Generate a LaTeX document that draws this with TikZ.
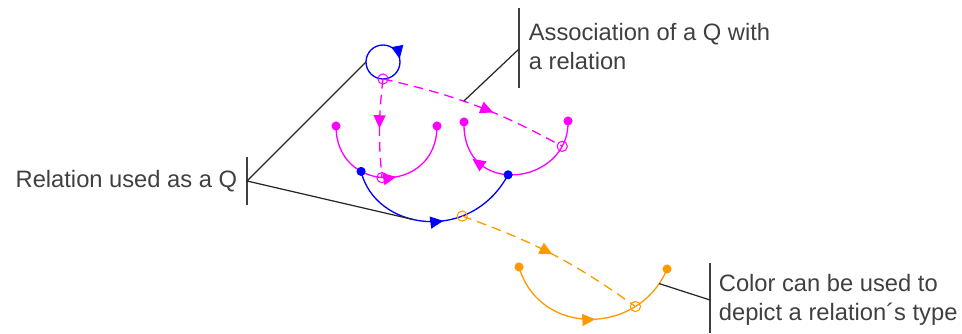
\documentclass[tikz,border=0pt]{standalone}
\usepackage{fontspec}
\setmainfont{Liberation Sans}
\usetikzlibrary{arrows.meta,decorations.markings}
\definecolor{relpink}{RGB}{255,0,255}
\definecolor{relblue}{RGB}{0,0,255}
\definecolor{relorange}{RGB}{255,153,0}
\definecolor{notegray}{RGB}{64,64,64}
\tikzset{
  rel/.style={line width=0.75pt},
  qline/.style={rel, dash pattern=on 5.5pt off 3.5pt},
  midarrow/.style={postaction={decorate},
    decoration={markings,mark=at position #1 with {\arrow{Triangle[length=2.6mm,width=2.4mm]}}}},
  backarrow/.style={postaction={decorate},
    decoration={markings,mark=at position #1 with {\arrow{Triangle[reversed,length=2.6mm,width=2.4mm]}}}},
  dot/.style={circle,fill=#1,inner sep=0pt,minimum size=5.2pt},
  qmark/.style={circle,draw=#1,line width=0.6pt,inner sep=0pt,minimum size=5.8pt},
  note/.style={font=\fontsize{13.5}{16.5}\selectfont, text=notegray, align=left, inner sep=2pt},
  bar/.style={notegray, line width=1.1pt},
  pointer/.style={black!85, line width=0.7pt}
}
\begin{document}
\begin{tikzpicture}[x=0.02cm,y=0.02cm]
  \useasboundingbox (0,0) rectangle (962,334);
  % relation used as a Q (blue loop)
  \coordinate (loopw) at (366,272);
  \draw[rel, relblue, midarrow=0.72] (383,255) coordinate (qa)
    arc[start angle=-90, end angle=-450, radius=0.34cm];
  % pink relations
  \draw[rel, relpink, midarrow=0.56] (336,208) coordinate (pa1)
    .. controls (336,139) and (437,139) .. (437,208)
    coordinate[pos=0.325] (bq1) coordinate[pos=0.47] (qb) coordinate (pa2);
  \draw[rel, relpink, backarrow=0.3] (464,212) coordinate (pr1)
    .. controls (462,134) and (570,149) .. (568,213)
    coordinate[pos=0.45] (bq2) coordinate[pos=0.85] (qc) coordinate (pr2);
  % blue relation
  \draw[rel, relblue, midarrow=0.56] (bq1) .. controls (375,104) and (470,89) .. (bq2)
    coordinate[pos=0.43] (bluetip) coordinate[pos=0.7] (qd);
  % orange relation
  \draw[rel, relorange, midarrow=0.52] (519,67) coordinate (or1)
    .. controls (540,-4) and (640,-1) .. (667,65)
    coordinate[pos=0.75] (qe) coordinate[pos=0.92] (orangetip) coordinate (or2);
  % associations of Qs
  \draw[qline, relpink, midarrow=0.5] (qa) to[bend right=6] (qb);
  \draw[qline, relpink, midarrow=0.6] (qa) to[bend left=8] coordinate[pos=0.43] (assoctip) (qc);
  \draw[qline, relorange, midarrow=0.5] (qd) to[bend left=8] (qe);
  % end points
  \foreach \p in {pa1,pa2,pr1,pr2} \node[dot=relpink] (\p dot) at (\p) {};
  \foreach \p in {bq1,bq2} \node[dot=relblue] (\p dot) at (\p) {};
  \foreach \p in {or1,or2} \node[dot=relorange] (\p dot) at (\p) {};
  \foreach \p in {qa,qb,qc} \node[qmark=relpink] (\p mark) at (\p) {};
  \foreach \p in {qd,qe} \node[qmark=relorange] (\p mark) at (\p) {};
  % notes
  \node[note, anchor=east] (relq) at (241,153) {Relation used as a Q};
  \coordinate (relbar) at (247,153);
  \draw[bar] (247,177) -- (247,129);
  \draw[pointer] (loopw) -- (relbar) -- (bluetip);
  \node[note, anchor=west] (assoc) at (525,287) {Association of a Q with\\a relation};
  \coordinate (assocbar) at (519,285);
  \draw[bar] (519,326) -- (519,246);
  \draw[pointer] (assocbar) -- (assoctip);
  \node[note, anchor=west] (colnote) at (715,34.5) {Color can be used to\\depict a relation´s type};
  \coordinate (colbar) at (710,34);
  \draw[bar] (710,71) -- (710,1);
  \draw[pointer] (colbar) -- (orangetip);
\end{tikzpicture}
\end{document}
